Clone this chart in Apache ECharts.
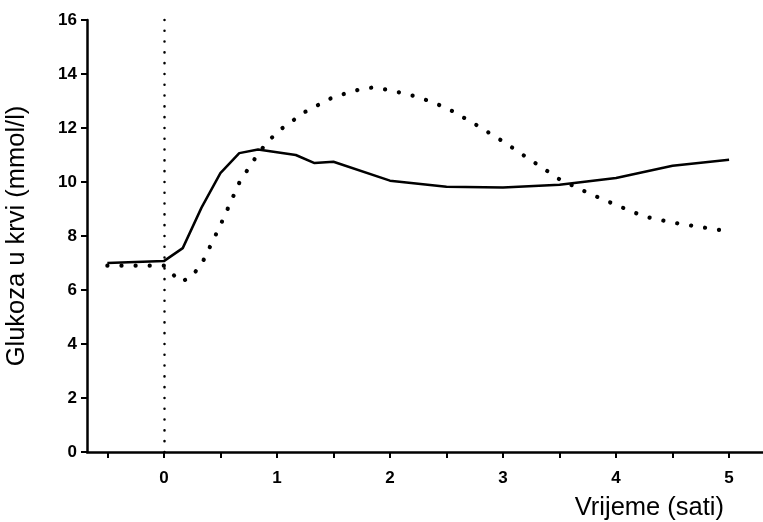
<!DOCTYPE html>
<html>
<head>
<meta charset="utf-8">
<script src="https://cdn.jsdelivr.net/npm/echarts@6/dist/echarts.min.js"></script>
<style>
  html, body { margin: 0; padding: 0; background: #fff; }
  #chart { width: 763px; height: 522px; }
</style>
</head>
<body>
<div id="chart"></div>
<script>
// ticks and labels
var xTicks = [-0.5, 0, 0.5, 1, 1.5, 2, 2.5, 3, 3.5, 4, 4.5, 5];
var xLabels = [0, 1, 2, 3, 4, 5];

// solid curve (sati, mmol/l)
var solidX = [-0.5, 0, 0.167, 0.333, 0.5, 0.667, 0.833, 1.0, 1.167, 1.333, 1.5, 2, 2.5, 3, 3.5, 4, 4.5, 5];
var solidY = [7.0, 7.07, 7.55, 9.05, 10.33, 11.07, 11.2, 11.1, 11.0, 10.7, 10.75, 10.05, 9.82, 9.8, 9.9, 10.15, 10.6, 10.82];

// dotted curve
var dotX = [-0.5, 0, 0.15, 0.25, 0.35, 0.5, 0.67, 0.85, 1.0, 1.25, 1.5, 1.75, 1.85, 2.0, 2.25, 2.5, 2.75, 3.0, 3.25, 3.5, 3.75, 4.0, 4.25, 4.5, 4.75, 5.0];
var dotY = [6.9, 6.9, 6.3, 6.5, 7.1, 8.4, 10.0, 11.15, 11.85, 12.6, 13.15, 13.45, 13.5, 13.4, 13.15, 12.75, 12.15, 11.5, 10.8, 10.1, 9.6, 9.15, 8.72, 8.5, 8.33, 8.17];

function pairs(xs, ys) {
    return xs.map(function(x, i) { return [x, ys[i]]; });
}

var chart = echarts.init(document.getElementById('chart'));
var labelFont = {
    color: '#000',
    fontFamily: 'Liberation Sans, Arial, sans-serif',
    fontWeight: 'bold',
    fontSize: 17
};

chart.setOption({
    animation: false,
    grid: { left: 87, right: 0, top: 20, bottom: 70, outerBoundsMode: 'none' },
    xAxis: {
        type: 'value',
        min: -0.68,
        max: 5.3,
        name: 'Vrijeme (sati)',
        nameLocation: 'end',
        nameGap: -39,
        nameTextStyle: {
            color: '#000', fontFamily: 'Liberation Sans, Arial, sans-serif', fontSize: 25.5,
            align: 'right', verticalAlign: 'top', padding: [43, 0, 0, 0]
        },
        axisLine: { onZero: false, lineStyle: { color: '#000', width: 2.5 } },
        axisTick: { customValues: xTicks, length: 6, lineStyle: { color: '#000', width: 2 } },
        axisLabel: Object.assign({ customValues: xLabels, margin: 18 }, labelFont),
        splitLine: { show: false }
    },
    yAxis: {
        type: 'value',
        min: 0,
        max: 16,
        interval: 2,
        name: 'Glukoza u krvi (mmol/l)',
        nameLocation: 'middle',
        nameGap: 57,
        nameTextStyle: { color: '#000', fontFamily: 'Liberation Sans, Arial, sans-serif', fontSize: 25.5 },
        axisLine: { show: true, onZero: false, lineStyle: { color: '#000', width: 2.5 } },
        axisTick: { show: true, length: 6, lineStyle: { color: '#000', width: 2 } },
        axisLabel: Object.assign({ margin: 10 }, labelFont),
        splitLine: { show: false }
    },
    series: [
        {
            type: 'line',
            data: pairs(solidX, solidY),
            symbol: 'none',
            lineStyle: { color: '#000', width: 2.5 },
            markLine: {
                silent: true,
                symbol: 'none',
                label: { show: false },
                lineStyle: { color: '#000', width: 2.5, type: [0.1, 10.7], cap: 'round' },
                data: [{ xAxis: 0 }]
            }
        },
        {
            type: 'line',
            data: pairs(dotX, dotY),
            symbol: 'none',
            lineStyle: { color: '#000', width: 4.2, type: [0.1, 14], cap: 'round' }
        }
    ]
});
</script>
</body>
</html>
